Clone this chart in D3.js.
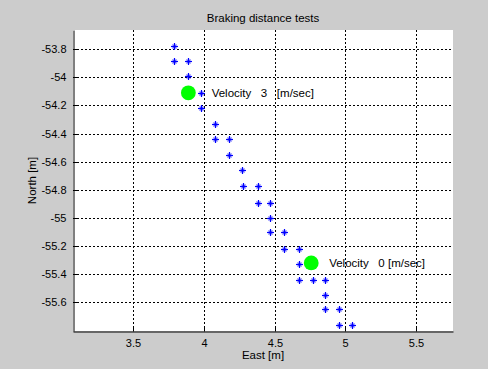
<!DOCTYPE html>
<html>
<head>
<meta charset="utf-8">
<script src="https://cdn.jsdelivr.net/npm/d3@7"></script>
<style>
  html, body { margin: 0; padding: 0; background: #cccccc; }
  svg { display: block; }
  text { font-family: "Liberation Sans", Arial, sans-serif; fill: #000; }
</style>
</head>
<body>
<svg id="chart" width="488" height="369"></svg>
<script>
// Measured vehicle positions (East, North) in metres
const eastPos = [3.79, 3.79, 3.89, 3.89, 3.98, 3.98, 4.08, 4.08, 4.18, 4.18,
                 4.27, 4.28, 4.38, 4.38, 4.47, 4.47, 4.47, 4.57, 4.57, 4.67,
                 4.67, 4.67, 4.77, 4.86, 4.86, 4.86, 4.96, 4.96, 5.05];
const northPos = [-53.78, -53.88, -53.88, -53.99, -54.11, -54.22, -54.33, -54.44, -54.44, -54.55,
                  -54.66, -54.77, -54.77, -54.89, -54.89, -55.00, -55.10, -55.10, -55.22, -55.22,
                  -55.33, -55.44, -55.44, -55.44, -55.55, -55.65, -55.65, -55.76, -55.76];

// Velocity markers and their annotation text
const markEast = [3.89, 4.76];
const markNorth = [-54.11, -55.32];
const markLabels = ["Velocity   3   [m/sec]", "Velocity   0 [m/sec]"];
const labelEast = [4.055, 4.887];

const xTicks = [3.5, 4, 4.5, 5, 5.5];
const yTicks = [-53.8, -54, -54.2, -54.4, -54.6, -54.8, -55, -55.2, -55.4, -55.6];

const titleText = "Braking distance tests";
const xLabel = "East [m]";
const yLabel = "North [m]";

const svg = d3.select("#chart");
const L = 73, R = 453, T = 30, B = 331;

const x = d3.scaleLinear().domain([3.073, 5.764]).range([L, R]);
const y = d3.scaleLinear().domain([-55.804, -53.663]).range([B, T]);

// plot background
svg.append("rect").attr("x", L).attr("y", T).attr("width", R - L).attr("height", B - T).attr("fill", "#fff");

// dotted grid
const grid = svg.append("g").attr("stroke", "#000").attr("stroke-width", 1).attr("stroke-dasharray", "2,2");
grid.selectAll("line.vx").data(xTicks).join("line")
  .attr("x1", d => Math.round(x(d)) + 0.5).attr("x2", d => Math.round(x(d)) + 0.5)
  .attr("y1", T).attr("y2", B);
grid.selectAll("line.hy").data(yTicks).join("line")
  .attr("y1", d => Math.round(y(d)) + 0.5).attr("y2", d => Math.round(y(d)) + 0.5)
  .attr("x1", L).attr("x2", R);

// axes with inward ticks
const fmt = d => String(d);
const xAxis = d3.axisBottom(x).tickValues(xTicks).tickFormat(fmt).tickSizeInner(-4).tickSizeOuter(0).tickPadding(8);
const yAxis = d3.axisLeft(y).tickValues(yTicks).tickFormat(fmt).tickSizeInner(-4).tickSizeOuter(0).tickPadding(7);

const gx = svg.append("g").attr("transform", `translate(0,${B + 0.5})`).call(xAxis);
const gy = svg.append("g").attr("transform", `translate(${L + 0.5},0)`).call(yAxis);
[gx, gy].forEach(g => {
  g.select(".domain").attr("stroke", "#000");
  g.selectAll(".tick line").attr("stroke", "#000");
  g.selectAll(".tick text").attr("font-size", 11).attr("font-family", "Liberation Sans, Arial, sans-serif").attr("fill", "#000");
});
gx.selectAll(".tick").attr("transform", d => `translate(${Math.round(x(d)) + 0.5},0)`);
gy.selectAll(".tick").attr("transform", d => `translate(0,${Math.round(y(d)) + 0.5})`);

// asterisk markers
const star = svg.append("g").attr("stroke", "#0000ff").attr("stroke-width", 1.2);
const pts = eastPos.map((e, i) => [x(e), y(northPos[i])]);
const sg = star.selectAll("g").data(pts).join("g")
  .attr("transform", d => `translate(${Math.round(d[0]) + 0.5},${Math.round(d[1]) + 0.5})`);
sg.append("line").attr("x1", -3.5).attr("x2", 3.5).attr("y1", 0).attr("y2", 0);
sg.append("line").attr("x1", 0).attr("x2", 0).attr("y1", -3.5).attr("y2", 3.5);
sg.append("line").attr("x1", -2).attr("x2", 2).attr("y1", -2).attr("y2", 2).attr("stroke-opacity", 0.6);
sg.append("line").attr("x1", -2).attr("x2", 2).attr("y1", 2).attr("y2", -2).attr("stroke-opacity", 0.6);

// velocity markers
svg.selectAll("circle.vel").data(markEast).join("circle")
  .attr("cx", (d) => x(d)).attr("cy", (d, i) => y(markNorth[i])).attr("r", 7.4)
  .attr("fill", "#00ff00");
svg.selectAll("text.vel").data(markLabels).join("text")
  .attr("x", (d, i) => x(labelEast[i])).attr("y", (d, i) => y(markNorth[i]) + 4)
  .attr("font-size", 11.5).style("white-space", "pre").attr("xml:space", "preserve")
  .text(d => d);

// title and axis labels
svg.append("text").attr("x", (L + R) / 2).attr("y", 22).attr("text-anchor", "middle").attr("font-size", 11.5).text(titleText);
svg.append("text").attr("x", (L + R) / 2).attr("y", 359).attr("text-anchor", "middle").attr("font-size", 11.5).text(xLabel);
svg.append("text").attr("transform", `translate(36,${(T + B) / 2}) rotate(-90)`).attr("text-anchor", "middle").attr("font-size", 11.5).text(yLabel);
</script>
</body>
</html>
